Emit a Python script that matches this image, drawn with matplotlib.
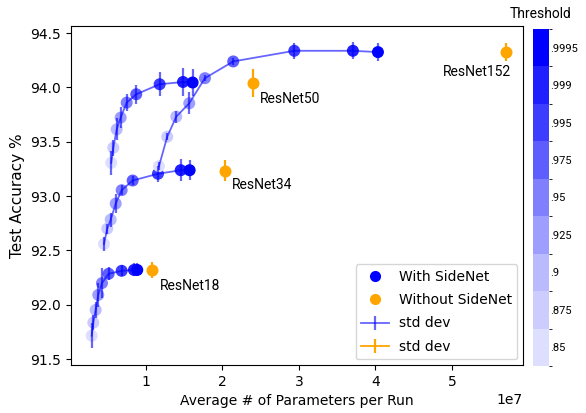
import numpy as np
import matplotlib
matplotlib.use("Agg")
import matplotlib.pyplot as plt
from matplotlib.colors import ListedColormap, BoundaryNorm
from matplotlib.cm import ScalarMappable
from matplotlib.lines import Line2D

# threshold levels (colorbar) and the shade of blue used for each
thresholds = ['.85', '.875', '.9', '.925', '.95', '.975', '.995', '.999', '.9995']
alphas = [0.13, 0.2, 0.27, 0.38, 0.5, 0.63, 0.76, 0.88, 1.0]

# with SideNet, params in millions, accuracy in %
r18_params = [2.90, 3.11, 3.42, 3.76, 4.25, 5.12, 6.82, 8.43, 8.86]
r18_acc = [91.715, 91.835, 91.952, 92.09, 92.199, 92.285, 92.312, 92.32, 92.32]
r18_std = [0.115, 0.07, 0.07, 0.11, 0.14, 0.06, 0.05, 0.06, 0.06]

r34_params = [4.51, 4.94, 5.39, 6.04, 6.82, 8.26, 11.57, 14.54, 15.71]
r34_acc = [92.559, 92.70, 92.783, 92.931, 93.054, 93.143, 93.205, 93.238, 93.238]
r34_std = [0.065, 0.045, 0.065, 0.09, 0.045, 0.045, 0.075, 0.1, 0.09]

r50_params = [5.46, 5.73, 6.17, 6.69, 7.48, 8.73, 11.79, 14.84, 16.10]
r50_acc = [93.306, 93.445, 93.614, 93.722, 93.860, 93.937, 94.029, 94.050, 94.045]
r50_std = [0.11, 0.075, 0.1, 0.1, 0.075, 0.088, 0.11, 0.128, 0.123]

r152_params = [11.70, 12.78, 13.96, 15.66, 17.71, 21.41, 29.39, 37.06, 40.33]
r152_acc = [93.275, 93.546, 93.731, 93.854, 94.085, 94.239, 94.337, 94.337, 94.325]
r152_std = [0.035, 0.03, 0.055, 0.1, 0.03, 0.035, 0.074, 0.077, 0.086]

# without SideNet (plain ResNets)
base_names = ['ResNet18', 'ResNet34', 'ResNet50', 'ResNet152']
base_params = [10.78, 20.33, 23.99, 57.06]
base_acc = [92.32, 93.235, 94.04, 94.325]
base_std = [0.077, 0.1, 0.13, 0.08]
label_pos = [(11.83, 92.174), (21.20, 93.10), (24.90, 93.89), (48.78, 94.14)]

colors = [(1 - a, 1 - a, 1.0) for a in alphas]
curves = [(r18_params, r18_acc, r18_std), (r34_params, r34_acc, r34_std),
          (r50_params, r50_acc, r50_std), (r152_params, r152_acc, r152_std)]

fig = plt.figure(figsize=(5.86, 4.13), dpi=100)
ax = fig.add_axes([0.1212, 0.1162, 0.7713, 0.8208])

blue_err = None
for p, a, s in curves:
    x = np.array(p) * 1e6
    ax.scatter(x, a, s=58, c=colors, zorder=2)
    blue_err = ax.errorbar(x, a, yerr=s, color='blue', alpha=0.6, lw=1.3,
                           elinewidth=1.6, zorder=3)

bx = np.array(base_params) * 1e6
ax.scatter(bx, base_acc, s=58, color='orange', zorder=2)
orange_err = None
for x, y, e in zip(bx, base_acc, base_std):
    orange_err = ax.errorbar([x], [y], yerr=[e], color='orange', lw=1.3,
                             elinewidth=1.6, zorder=3)

for name, (tx, ty) in zip(base_names, label_pos):
    ax.text(tx * 1e6, ty, name, fontsize=10, family='Roboto', va='center', ha='left')

ax.set_xlim(0.02e7, 5.93e7)
ax.set_ylim(91.445, 94.565)
ax.set_xlabel('Average # of Parameters per Run', fontsize=10)
ax.set_ylabel('Test Accuracy %', fontsize=11)

h_blue = Line2D([], [], ls='none', marker='o', color='blue', markersize=7)
h_orange = Line2D([], [], ls='none', marker='o', color='orange', markersize=7)
ax.legend([h_blue, h_orange, blue_err, orange_err],
          ['With SideNet', 'Without SideNet', 'std dev', 'std dev'],
          loc='lower right', fontsize=10, labelspacing=0.68,
          borderaxespad=0.4, handletextpad=0.7)

cax = fig.add_axes([0.9096, 0.1138, 0.0273, 0.816])
cmap = ListedColormap(colors)
norm = BoundaryNorm(np.arange(len(colors) + 1), cmap.N)
cb = fig.colorbar(ScalarMappable(norm=norm, cmap=cmap), cax=cax,
                  ticks=np.arange(len(colors)) + 0.5)
cb.ax.set_yticklabels(thresholds, fontsize=8, family='Roboto')
cb.ax.tick_params(length=0, pad=1)
cb.outline.set_visible(False)
cb.ax.set_title('Threshold', fontsize=10, family='Roboto', pad=8)

fig.savefig('out.png', dpi=100)
